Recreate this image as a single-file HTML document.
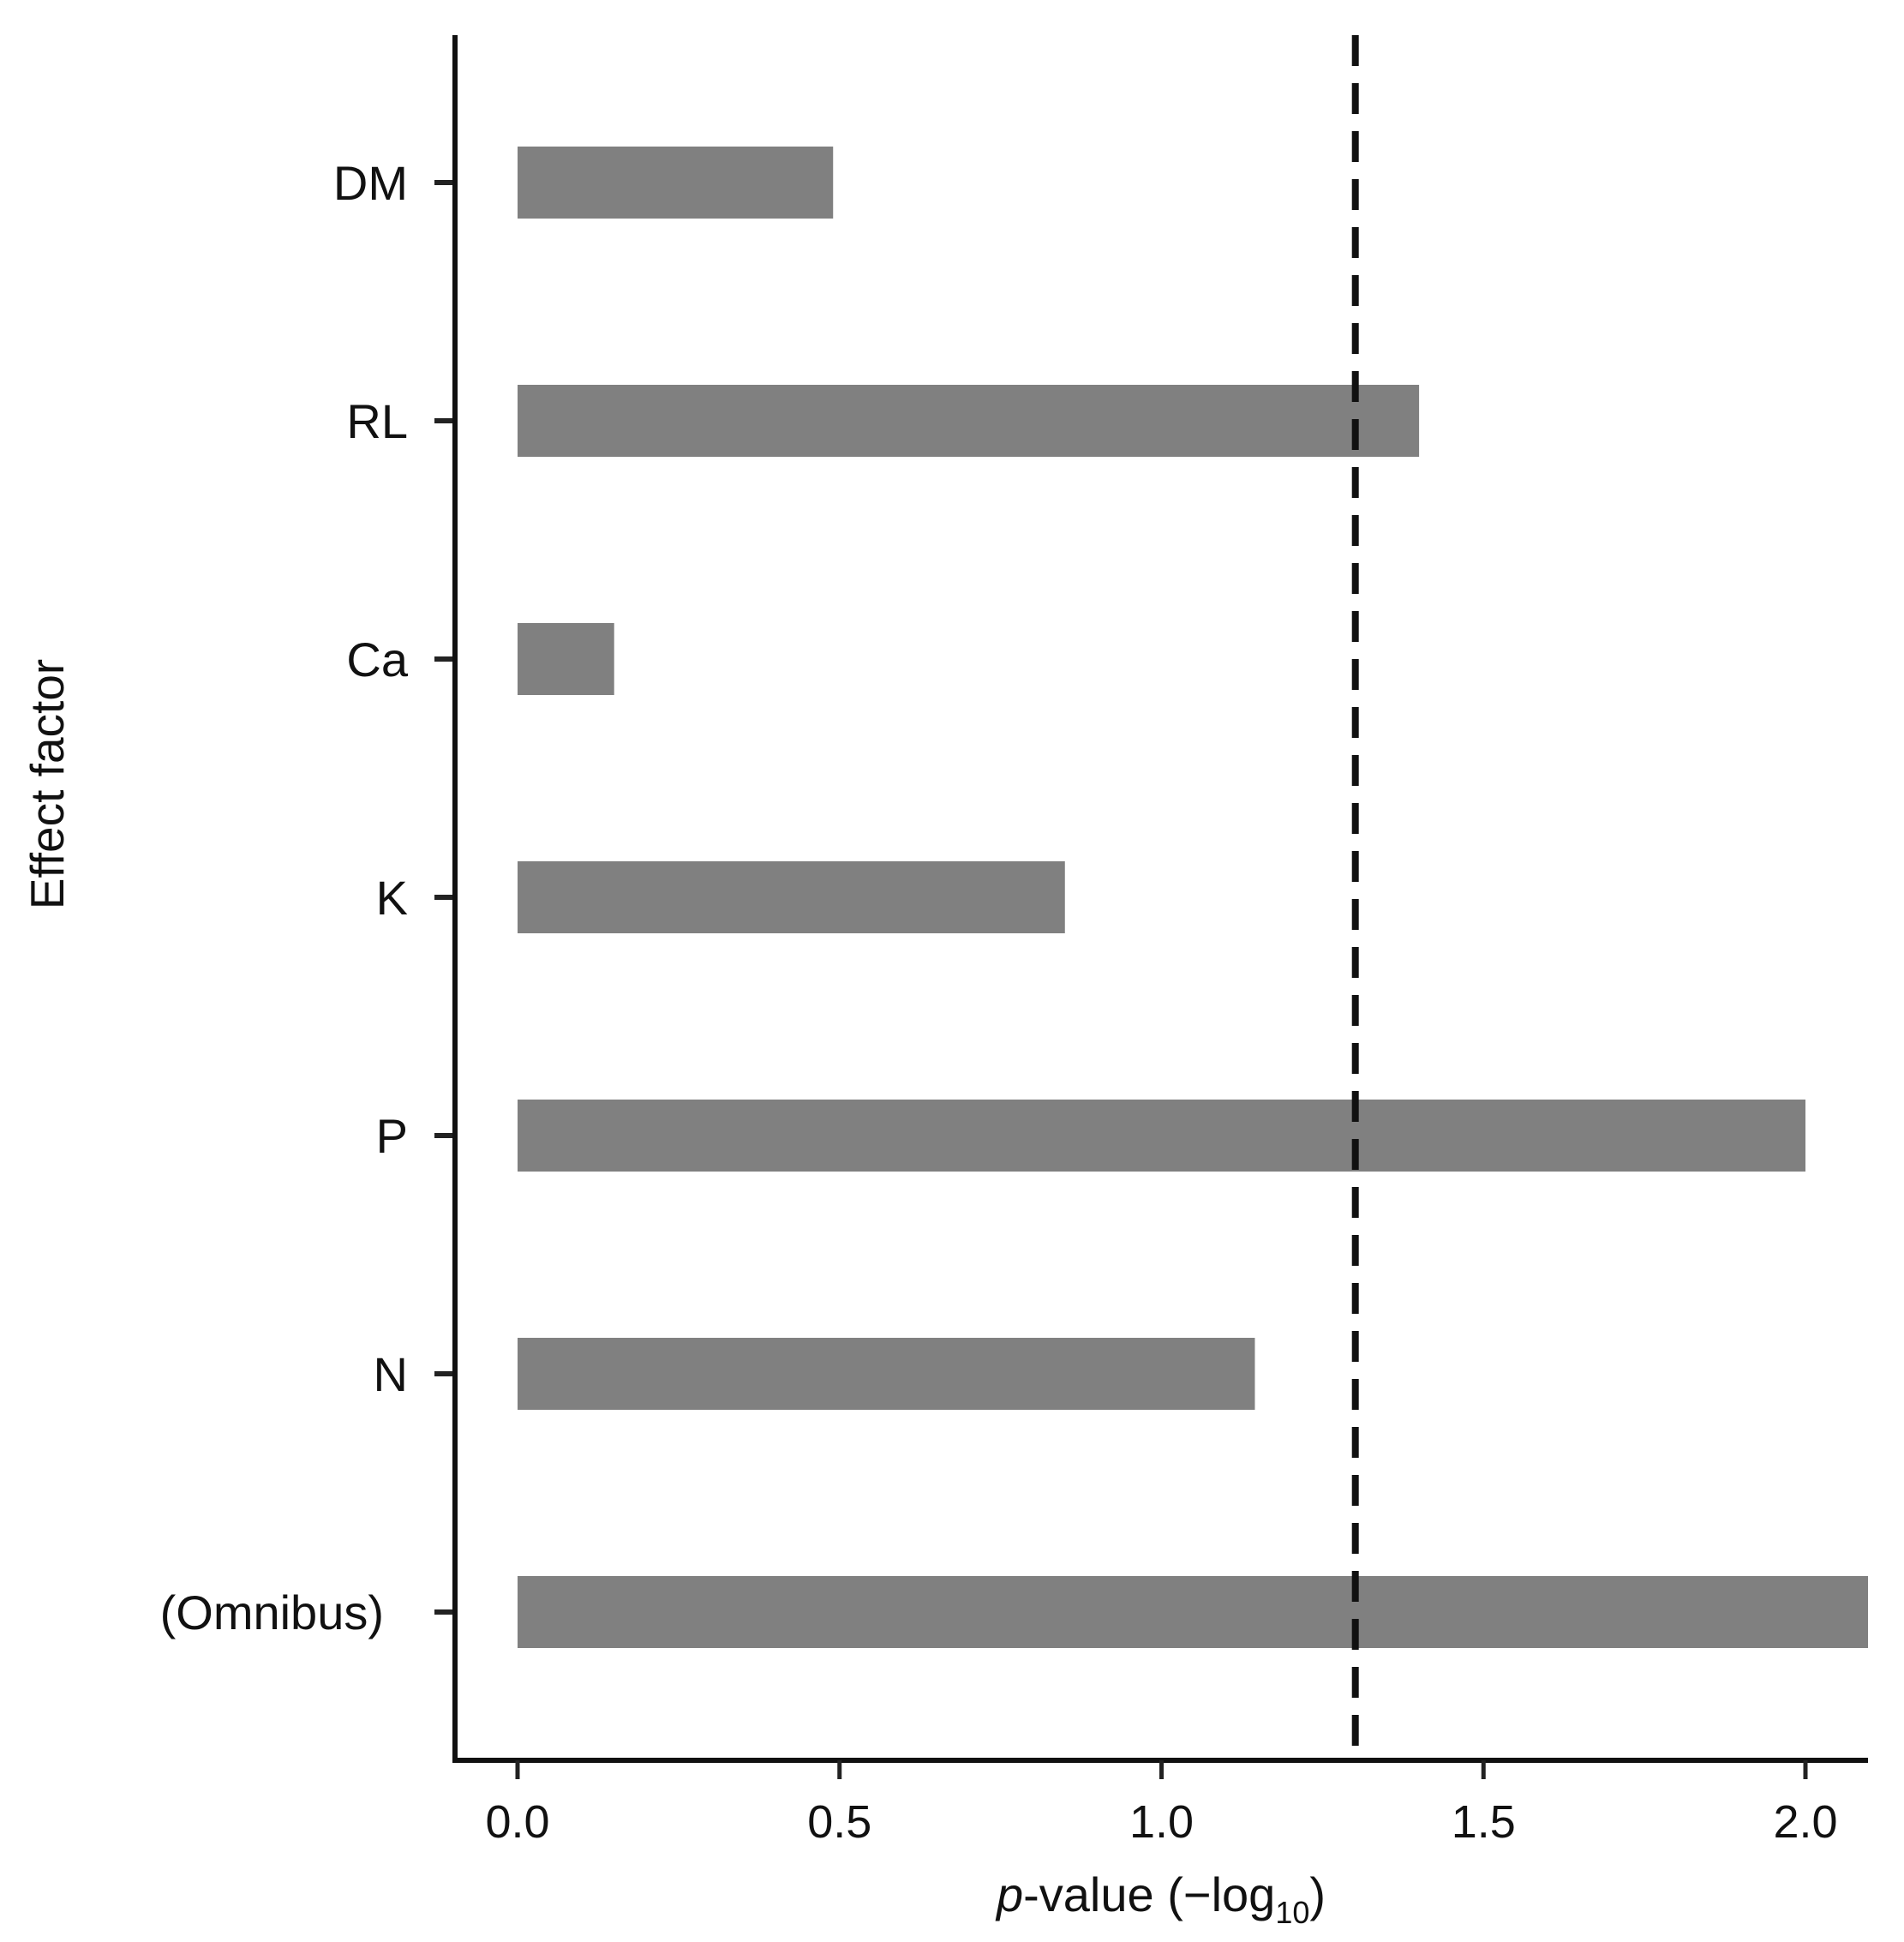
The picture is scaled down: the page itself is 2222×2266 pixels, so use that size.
<!DOCTYPE html>
<html><head><meta charset="utf-8"><style>
html,body{margin:0;padding:0;background:#fff}
svg{display:block;font-family:"Liberation Sans",Arial,sans-serif}
</style></head><body>
<svg id="chart" width="2222" height="2266" viewBox="0 0 2222 2266" xmlns="http://www.w3.org/2000/svg">
<g id="bars"></g>
<g id="axes"></g>
<text x="1355" y="2230" font-size="56" text-anchor="middle" fill="#111"><tspan font-style="italic">p</tspan>-value (−log<tspan font-size="36" dy="14">10</tspan><tspan dy="-14">)</tspan></text>
<text x="0" y="0" font-size="55" text-anchor="middle" fill="#111" transform="translate(74,915) rotate(-90)">Effect factor</text>
</svg>
<script>
const categories = ["DM","RL","Ca","K","P","N","(Omnibus)"];
const values = [0.49, 1.40, 0.15, 0.85, 2.00, 1.145, 2.2];
const xTicks = [0, 0.5, 1.0, 1.5, 2.0];
const xTickLabels = ["0.0","0.5","1.0","1.5","2.0"];
const threshold = 1.301;

const NS = "http://www.w3.org/2000/svg";
const axisX = 531, axisTop = 41, axisBottom = 2054, axisRight = 2180;
const x0 = 604, perUnit = 751.5;
const yFirst = 213, yStep = 278, barH = 84;
function xScale(v){ return x0 + v*perUnit; }
function yScale(i){ return yFirst + i*yStep; }
function mk(tag, attrs, parent){ const e=document.createElementNS(NS,tag); for(const k in attrs) e.setAttribute(k,attrs[k]); parent.appendChild(e); return e; }

const bars = document.getElementById('bars');
const axes = document.getElementById('axes');
categories.forEach((c,i)=>{
  const x2 = Math.min(xScale(values[i]), axisRight);
  const r = mk('rect',{x:x0,y:yScale(i)-barH/2,width:x2-x0,height:barH,fill:'#808080'},bars);
  
  
  const t = mk('line',{x1:axisX-24,x2:axisX,y1:yScale(i),y2:yScale(i),stroke:'#222','stroke-width':6},axes);
  
  
  const lx = c.length > 3 ? 448 : 476;
  const l = mk('text',{x:lx,y:yScale(i)+20,'font-size':56,'text-anchor':'end',fill:'#111'},axes);
  l.textContent = c;
  
  
});
const dl = mk('line',{x1:xScale(threshold),x2:xScale(threshold),y1:axisTop,y2:axisBottom,stroke:'#111','stroke-width':8,'stroke-dasharray':'36 20'},axes);


const ya = mk('line',{x1:axisX,x2:axisX,y1:axisTop,y2:axisBottom+3,stroke:'#111','stroke-width':6},axes);


const xa = mk('line',{x1:axisX-3,x2:axisRight,y1:axisBottom,y2:axisBottom,stroke:'#111','stroke-width':6},axes);


xTicks.forEach((v,i)=>{
  const t = mk('line',{x1:xScale(v),x2:xScale(v),y1:axisBottom,y2:axisBottom+22,stroke:'#222','stroke-width':5},axes);
  
  
  const l = mk('text',{x:xScale(v),y:axisBottom+90,'font-size':54,'text-anchor':'middle',fill:'#111'},axes);
  l.textContent = xTickLabels[i];
  
  
});
</script>
</body></html>
